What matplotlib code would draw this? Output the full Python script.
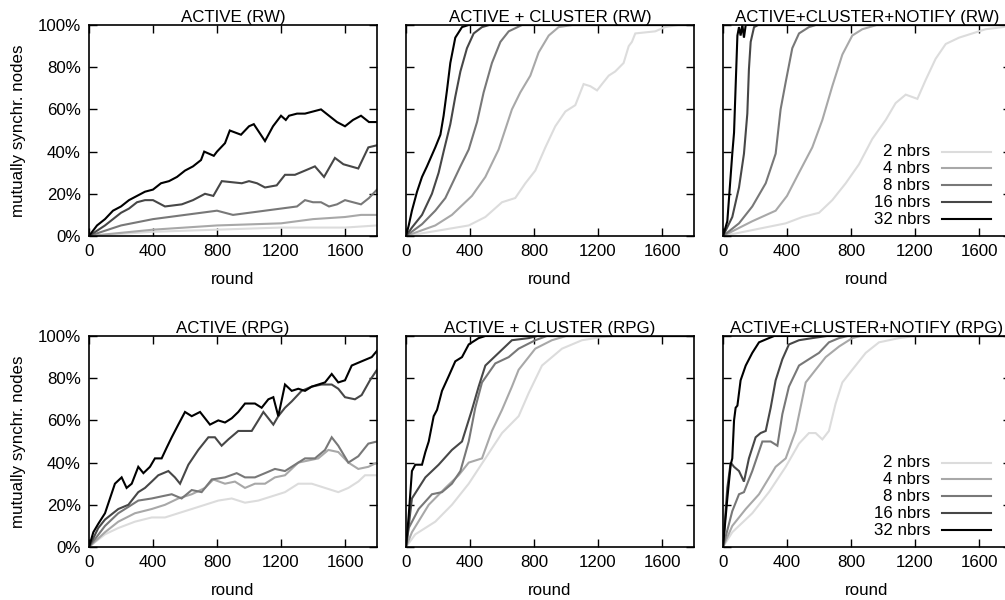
import matplotlib
matplotlib.use("Agg")
import matplotlib.pyplot as plt
from matplotlib.ticker import FuncFormatter

plt.rcParams['font.family'] = ['Liberation Sans', 'DejaVu Sans']
FS = 12.2

labels = ["2 nbrs", "4 nbrs", "8 nbrs", "16 nbrs", "32 nbrs"]
colors = ["#dcdcdc", "#a8a8a8", "#787878", "#474747", "#000000"]

titles = ["ACTIVE (RW)", "ACTIVE + CLUSTER (RW)", "ACTIVE+CLUSTER+NOTIFY (RW)",
          "ACTIVE (RPG)", "ACTIVE + CLUSTER (RPG)", "ACTIVE+CLUSTER+NOTIFY (RPG)"]

# ---- ACTIVE (RW) ----
a_rw_x2 = [0, 400, 800, 1200, 1600, 1800]
a_rw_y2 = [0, 2, 3, 4, 4, 5]
a_rw_x4 = [0, 400, 800, 1200, 1400, 1600, 1700, 1800]
a_rw_y4 = [0, 3, 5, 6, 8, 9, 10, 10]
a_rw_x8 = [0, 200, 400, 500, 600, 700, 800, 900, 1000, 1100, 1200, 1300, 1350, 1400, 1450,
           1500, 1550, 1600, 1650, 1700, 1750, 1800]
a_rw_y8 = [0, 5, 8, 9, 10, 11, 12, 10, 11, 12, 13, 14, 17, 16, 16, 14, 15, 17, 16, 15, 18, 22]
a_rw_x16 = [0, 100, 150, 200, 250, 300, 350, 400, 475, 580, 650, 725, 777, 830, 955, 1000,
            1050, 1100, 1173, 1225, 1287, 1350, 1412, 1469, 1537, 1590, 1683, 1746, 1800]
a_rw_y16 = [0, 5, 8, 11, 13, 16, 17, 17, 14, 15, 17, 20, 19, 26, 25, 26, 25, 23, 24, 29, 29,
            31, 33, 28, 37, 34, 32, 42, 43]
a_rw_x32 = [0, 50, 100, 150, 200, 250, 300, 350, 400, 450, 500, 550, 600, 650, 700, 720, 780,
            800, 850, 880, 950, 1000, 1030, 1100, 1150, 1200, 1230, 1250, 1300, 1350, 1400,
            1450, 1500, 1550, 1600, 1650, 1700, 1750, 1800]
a_rw_y32 = [0, 5, 8, 12, 14, 17, 19, 21, 22, 25, 26, 28, 31, 33, 36, 40, 38, 40, 44, 50, 48,
            52, 53, 45, 52, 57, 55, 57, 58, 58, 59, 60, 57, 54, 52, 55, 57, 54, 54]

# ---- ACTIVE + CLUSTER (RW) ----
c_rw_x2 = [0, 392, 496, 600, 683, 746, 808, 871, 933, 996, 1058, 1110, 1152, 1194, 1225,
           1267, 1308, 1360, 1392, 1412, 1433, 1558, 1620, 1700, 1800]
c_rw_y2 = [0, 5, 9, 16, 18, 25, 31, 42, 52, 59, 62, 72, 71, 69, 72, 76, 78, 82, 90, 92, 96,
           97, 99, 100, 100]
c_rw_x4 = [0, 183, 287, 412, 496, 579, 662, 714, 777, 829, 892, 954, 1040, 1800]
c_rw_y4 = [0, 5, 10, 19, 28, 41, 60, 68, 76, 87, 95, 99, 100, 100]
c_rw_x8 = [0, 100, 183, 246, 340, 392, 444, 485, 537, 590, 642, 725, 1800]
c_rw_y8 = [0, 5.6, 12, 18, 33, 41, 54, 68, 82, 92, 97, 100, 100]
c_rw_x16 = [0, 37, 100, 162, 204, 235, 277, 308, 340, 381, 423, 475, 520, 1800]
c_rw_y16 = [0, 4, 10, 20, 30, 40, 53, 66, 78, 89, 96, 99, 100, 100]
c_rw_x32 = [0, 17, 37, 69, 100, 131, 183, 215, 235, 256, 277, 308, 350, 392, 1800]
c_rw_y32 = [0, 5, 12, 21, 28, 33, 42, 48, 57, 69, 82, 94, 99, 100, 100]

# ---- ACTIVE+CLUSTER+NOTIFY (RW) ----
n_rw_x2 = [0, 392, 496, 600, 683, 767, 850, 933, 1017, 1079, 1142, 1215, 1267, 1329, 1392,
           1475, 1558, 1642, 1750, 1800]
n_rw_y2 = [0, 6, 9, 11, 17, 25, 34, 46, 55, 63, 67, 65, 74, 84, 91, 94, 96, 98, 99, 100]
n_rw_x4 = [0, 183, 329, 400, 475, 558, 621, 683, 746, 808, 871, 960, 1800]
n_rw_y4 = [0, 7, 12, 19, 30, 42, 55, 71, 86, 95, 98, 100, 100]
n_rw_x8 = [0, 100, 183, 267, 329, 360, 392, 433, 475, 537, 580, 1800]
n_rw_y8 = [0, 6, 14, 25, 39, 60, 73, 89, 96, 99, 100, 100]
n_rw_x16 = [0, 58, 100, 131, 152, 162, 173, 194, 220, 1800]
n_rw_y16 = [0, 9, 23, 39, 58, 79, 92, 99, 100, 100]
n_rw_x32 = [0, 27, 58, 69, 79, 90, 100, 110, 121, 131, 142, 1800]
n_rw_y32 = [0, 7, 39, 49, 71, 95, 99, 95, 100, 94, 100, 100]

# ---- ACTIVE (RPG) ----
a_rpg_x2 = [0, 100, 183, 287, 392, 475, 558, 642, 725, 808, 892, 975, 1058, 1142, 1225, 1308,
            1392, 1475, 1558, 1621, 1683, 1725, 1800]
a_rpg_y2 = [0, 6, 9, 12, 14, 14, 16, 18, 20, 22, 23, 21, 22, 24, 26, 30, 30, 28, 26, 28, 31,
            34, 34]
a_rpg_x4 = [0, 100, 183, 287, 392, 475, 558, 642, 725, 777, 850, 912, 975, 1037, 1100, 1162,
            1225, 1308, 1371, 1433, 1496, 1558, 1621, 1683, 1746, 1800]
a_rpg_y4 = [0, 7, 12, 16, 18, 20, 23, 25, 28, 32, 30, 31, 28, 30, 30, 33, 34, 40, 41, 42, 46,
            45, 40, 37, 38, 40]
a_rpg_x8 = [0, 100, 183, 246, 308, 392, 454, 517, 579, 642, 704, 767, 850, 923, 975, 1037,
            1100, 1162, 1225, 1287, 1350, 1412, 1475, 1517, 1558, 1621, 1683, 1746, 1800]
a_rpg_y8 = [0, 10, 16, 19, 22, 23, 24, 25, 23, 27, 26, 32, 33, 35, 33, 33, 35, 37, 36, 39, 42,
            42, 46, 52, 48, 40, 43, 49, 50]
a_rpg_x16 = [0, 58, 100, 183, 246, 308, 350, 392, 433, 496, 537, 569, 621, 683, 746, 787, 829,
             871, 933, 975, 1017, 1058, 1090, 1121, 1152, 1183, 1225, 1267, 1329, 1392, 1454,
             1517, 1558, 1600, 1662, 1704, 1756, 1800]
a_rpg_y16 = [0, 9, 13, 18, 20, 26, 28, 31, 34, 36, 33, 30, 39, 46, 52, 52, 48, 51, 55, 55, 55,
             60, 64, 61, 58, 62, 66, 69, 74, 76, 77, 77, 75, 71, 70, 72, 79, 84]
a_rpg_x32 = [0, 27, 58, 100, 131, 162, 204, 235, 267, 308, 340, 381, 412, 454, 485, 517, 558,
             600, 642, 694, 756, 808, 850, 892, 933, 975, 1037, 1079, 1121, 1152, 1183, 1225,
             1267, 1308, 1350, 1392, 1433, 1475, 1517, 1558, 1600, 1642, 1704, 1767, 1800]
a_rpg_y32 = [0, 7, 11, 16, 23, 30, 33, 28, 30, 38, 35, 38, 42, 42, 47, 52, 58, 64, 62, 64, 58,
             60, 59, 61, 64, 68, 68, 66, 70, 71, 62, 77, 74, 75, 74, 76, 77, 78, 82, 78, 79, 86,
             88, 90, 93]

# ---- ACTIVE + CLUSTER (RPG) ----
c_rpg_x2 = [0, 58, 183, 287, 392, 496, 600, 704, 767, 850, 975, 1100, 1225, 1300, 1800]
c_rpg_y2 = [0, 6, 12, 20, 30, 42, 54, 62, 73, 86, 94, 98, 99.5, 100, 100]
c_rpg_x4 = [0, 37, 142, 246, 329, 392, 475, 537, 600, 662, 704, 808, 912, 1000, 1800]
c_rpg_y4 = [0, 7, 20, 28, 34, 40, 42, 55, 65, 76, 84, 94, 98, 100, 100]
c_rpg_x8 = [0, 17, 79, 162, 225, 287, 340, 392, 433, 475, 558, 642, 704, 808, 880, 1800]
c_rpg_y8 = [0, 9, 18, 25, 26, 30, 36, 50, 66, 78, 87, 90, 94, 98, 100, 100]
c_rpg_x16 = [0, 17, 37, 121, 204, 287, 350, 412, 454, 496, 579, 662, 767, 820, 1800]
c_rpg_y16 = [0, 10, 23, 33, 39, 46, 50, 65, 76, 86, 92, 98, 99, 100, 100]
c_rpg_x32 = [0, 17, 37, 58, 79, 100, 121, 142, 173, 194, 225, 267, 308, 350, 392, 454, 496, 1800]
c_rpg_y32 = [0, 15, 36, 39, 39, 39, 45, 50, 62, 65, 74, 81, 88, 90, 96, 99, 100, 100]

# ---- ACTIVE+CLUSTER+NOTIFY (RPG) ----
n_rpg_x2 = [0, 58, 183, 287, 392, 475, 537, 579, 621, 662, 704, 746, 808, 892, 975, 1100, 1200,
            1800]
n_rpg_y2 = [0, 7, 16, 26, 38, 49, 54, 54, 51, 55, 68, 78, 84, 92, 97, 99, 100, 100]
n_rpg_x4 = [0, 58, 142, 225, 329, 392, 454, 517, 579, 642, 725, 808, 860, 1800]
n_rpg_y4 = [0, 10, 18, 25, 38, 42, 55, 78, 84, 90, 95, 99, 100, 100]
n_rpg_x8 = [0, 58, 100, 131, 183, 246, 298, 340, 371, 412, 475, 537, 600, 662, 725, 780, 1800]
n_rpg_y8 = [0, 17, 25, 26, 36, 50, 50, 48, 63, 76, 86, 89, 92, 97, 99, 100, 100]
n_rpg_x16 = [0, 27, 48, 69, 100, 131, 162, 204, 235, 267, 298, 329, 371, 412, 475, 558, 650, 1800]
n_rpg_y16 = [0, 28, 40, 38, 36, 31, 42, 52, 54, 55, 66, 79, 89, 96, 98, 99, 100, 100]
n_rpg_x32 = [0, 27, 48, 58, 69, 79, 90, 110, 142, 183, 225, 287, 320, 1800]
n_rpg_y32 = [0, 23, 39, 42, 60, 66, 67, 79, 86, 92, 97, 99, 100, 100]

panels = [
    [(a_rw_x2, a_rw_y2), (a_rw_x4, a_rw_y4), (a_rw_x8, a_rw_y8), (a_rw_x16, a_rw_y16), (a_rw_x32, a_rw_y32)],
    [(c_rw_x2, c_rw_y2), (c_rw_x4, c_rw_y4), (c_rw_x8, c_rw_y8), (c_rw_x16, c_rw_y16), (c_rw_x32, c_rw_y32)],
    [(n_rw_x2, n_rw_y2), (n_rw_x4, n_rw_y4), (n_rw_x8, n_rw_y8), (n_rw_x16, n_rw_y16), (n_rw_x32, n_rw_y32)],
    [(a_rpg_x2, a_rpg_y2), (a_rpg_x4, a_rpg_y4), (a_rpg_x8, a_rpg_y8), (a_rpg_x16, a_rpg_y16), (a_rpg_x32, a_rpg_y32)],
    [(c_rpg_x2, c_rpg_y2), (c_rpg_x4, c_rpg_y4), (c_rpg_x8, c_rpg_y8), (c_rpg_x16, c_rpg_y16), (c_rpg_x32, c_rpg_y32)],
    [(n_rpg_x2, n_rpg_y2), (n_rpg_x4, n_rpg_y4), (n_rpg_x8, n_rpg_y8), (n_rpg_x16, n_rpg_y16), (n_rpg_x32, n_rpg_y32)],
]

W, H = 1005, 600
fig = plt.figure(figsize=(W / 100, H / 100), dpi=100)

# panel placement in pixels (third column runs past the right edge, as in the original)
lefts = [89, 406, 723]
tops = [25, 336]
pw, ph = 288, 211

for i, series in enumerate(panels):
    row, col = divmod(i, 3)
    ax = fig.add_axes([lefts[col] / W, 1 - (tops[row] + ph) / H, pw / W, ph / H])
    for (xs, ys), c in zip(series, colors):
        ax.plot(xs, ys, color=c, lw=1.5, solid_joinstyle='miter')
    ax.set_xlim(0, 1800)
    ax.set_ylim(0, 100)
    ax.set_xticks([0, 400, 800, 1200, 1600])
    ax.set_yticks([0, 20, 40, 60, 80, 100])
    ax.yaxis.set_major_formatter(FuncFormatter(lambda v, p: f"{v:.0f}%"))
    ax.tick_params(direction='in', length=6, width=1, top=True, right=True, pad=6,
                   labelsize=FS)
    for s in ax.spines.values():
        s.set_linewidth(1.2)
    if col != 0:
        ax.tick_params(labelleft=False)
    else:
        ax.set_ylabel("mutually synchr. nodes", fontsize=FS, labelpad=8)
    ax.set_xlabel("round", fontsize=FS, labelpad=9)
    ax.set_title(titles[i], fontsize=FS, pad=2)

    if col == 2:
        for k, (lab, c) in enumerate(zip(labels, colors)):
            yy = 0.40 - k * 0.08
            ax.text(0.719, yy, lab, transform=ax.transAxes, ha='right', va='center',
                    fontsize=FS)
            ax.plot([0.76, 0.93], [yy, yy], transform=ax.transAxes, color=c, lw=1.5)

fig.savefig("out.png", dpi=100)
